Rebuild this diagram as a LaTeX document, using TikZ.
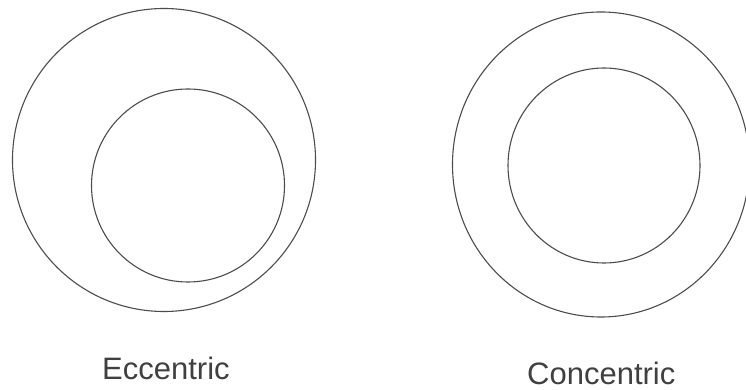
\documentclass[tikz,border=0pt]{standalone}
\usepackage{fontspec}
\setmainfont{Liberation Sans}
\begin{document}
\begin{tikzpicture}[x=1pt,y=1pt,
  ring/.style={draw=black!70,line width=1.1pt},
  lbl/.style={anchor=base west,inner sep=0pt,text=black!75,font=\fontsize{31}{36}\selectfont}]
\useasboundingbox (0,0) rectangle (746,390);
\clip (0,0) rectangle (746,390);
% eccentric
\draw[ring] (164,230) coordinate (eo) circle [radius=151.5];
\draw[ring] (188,204.5) coordinate (ei) circle [radius=96.5];
% concentric
\draw[ring] (601,225.5) coordinate (co) ellipse [x radius=148.5, y radius=152.5];
\draw[ring] (604,224.5) coordinate (ci) ellipse [x radius=96, y radius=97.5];
\node[lbl] (le) at (102,10) {Eccentric};
\node[lbl] (lc) at (527,5) {Concentric};
\end{tikzpicture}
\end{document}
